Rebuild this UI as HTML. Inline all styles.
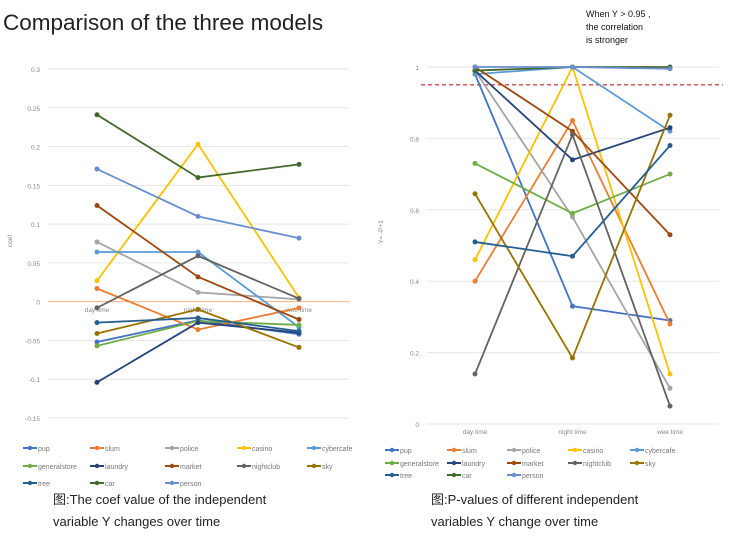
<!DOCTYPE html>
<html><head><meta charset="utf-8"><style>
body{margin:0;background:#fff;width:729px;height:540px;overflow:hidden;font-family:"Liberation Sans","Noto Sans CJK SC",sans-serif}
svg text{font-family:"Liberation Sans","Noto Sans CJK SC",sans-serif}
</style></head><body>
<svg id="s" width="729" height="540" xmlns="http://www.w3.org/2000/svg">
<text x="3" y="30" font-size="22.5" fill="#222">Comparison of the three models</text>
<text x="586" y="17" font-size="9" fill="#111">When Y &gt; 0.95 ,</text>
<text x="586" y="30" font-size="9" fill="#111">the correlation</text>
<text x="586" y="43" font-size="9" fill="#111">is stronger</text>
<text x="53" y="504" font-size="13" fill="#222">图:The coef value of the independent</text>
<text x="53" y="526" font-size="13" fill="#222">variable Y changes over time</text>
<text x="431" y="504" font-size="13" fill="#222">图:P-values of different independent</text>
<text x="431" y="526" font-size="13" fill="#222">variables Y change over time</text>
</svg>
<script>
const categories=["day time","night time","wee time"];
const seriesNames=["pup","slum","police","casino","cybercafe","generalstore","laundry","market","nightclub","sky","tree","car","person"];
const seriesColors=["#4472C4","#ED7D31","#A5A5A5","#FFC000","#5B9BD5","#70AD47","#264478","#9E480E","#636363","#997300","#255E91","#43682B","#698ED0"];
const coefValues=[
[-0.052,-0.024,-0.042],[0.017,-0.036,-0.008],[0.077,0.012,0.003],[0.027,0.203,0.005],
[0.064,0.064,-0.033],[-0.057,-0.025,-0.030],[-0.104,-0.027,-0.040],[0.124,0.032,-0.023],
[-0.008,0.059,0.004],[-0.041,-0.010,-0.059],[-0.027,-0.021,-0.038],[0.241,0.160,0.177],[0.171,0.110,0.082]];
const pValues=[
[0.98,0.33,0.29],[0.40,0.85,0.28],[0.99,0.58,0.10],[0.46,1.0,0.14],
[0.98,1.0,0.82],[0.73,0.59,0.70],[0.99,0.74,0.83],[1.0,0.82,0.53],
[0.14,0.81,0.05],[0.645,0.185,0.865],[0.51,0.47,0.78],[0.99,1.0,1.0],[1.0,1.0,0.995]];
const coefTicks=[0.3,0.25,0.2,0.15,0.1,0.05,0,-0.05,-0.1,-0.15];
const pTicks=[1,0.8,0.6,0.4,0.2,0];
const threshold=0.95;

const svg=document.getElementById('s');
const NS='http://www.w3.org/2000/svg';
function mk(tag,attrs,parent){const e=document.createElementNS(NS,tag);for(const k in attrs)e.setAttribute(k,attrs[k]);(parent||svg).appendChild(e);return e;}

function drawChart(cfg){
  const g=mk('g',{});
  
  
  const y=v=>cfg.y0+(v-cfg.vmin)/(cfg.vmax-cfg.vmin)*(cfg.y1-cfg.y0);
  const x=i=>cfg.xs0+i*cfg.dx;
  cfg.ticks.forEach(t=>{
    const ln=mk('line',{x1:cfg.gx0,x2:cfg.gx1,y1:y(t),y2:y(t),stroke:(t===0&&cfg.zeroOrange)?'#F4B183':'#e6e6e6','stroke-width':1},g);
    
    
    const tx=mk('text',{x:cfg.gx0-8,y:y(t)+3,'font-size':6.5,fill:'#888','text-anchor':'end'},g);
    tx.textContent=String(t);
    
    
  });
  categories.forEach((c,i)=>{
    const tx=mk('text',{x:x(i),y:cfg.labelY,'font-size':6.5,fill:'#888','text-anchor':'middle'},g);
    tx.textContent=c;
    
    
  });
  const yt=mk('text',{x:0,y:0,'font-size':6.5,fill:'#888','text-anchor':'middle',transform:`translate(${cfg.titleX},${cfg.titleY}) rotate(-90)`},g);
  yt.textContent=cfg.yTitle;
  
  
  if(cfg.threshold!==undefined){
    const d=mk('line',{x1:cfg.gx0-6,x2:cfg.gx1+4,y1:y(cfg.threshold),y2:y(cfg.threshold),stroke:'#C00000','stroke-width':1,'stroke-dasharray':'4,3'},g);
    
    
  }
  cfg.data.forEach((vals,si)=>{
    const pts=vals.map((v,i)=>x(i)+','+y(v)).join(' ');
    const pl=mk('polyline',{points:pts,fill:'none',stroke:seriesColors[si],'stroke-width':1.8},g);
    
    
    vals.forEach((v,i)=>{
      const c=mk('circle',{cx:x(i),cy:y(v),r:2.5,fill:seriesColors[si]},g);
      
      
    });
  });
  seriesNames.forEach((n,si)=>{
    const lx=cfg.legX[si%5], ly=cfg.legY[Math.floor(si/5)];
    const le=mk('g',{},g);
    
    
    mk('line',{x1:lx,x2:lx+14,y1:ly,y2:ly,stroke:seriesColors[si],'stroke-width':2},le);
    mk('circle',{cx:lx+7,cy:ly,r:2.2,fill:seriesColors[si]},le);
    const t=mk('text',{x:lx+15,y:ly+3,'font-size':7,fill:'#777'},le);
    t.textContent=n;
  });
}
drawChart({name:'coef-chart',data:coefValues,ticks:coefTicks,vmin:0.3,vmax:-0.15,y0:69,y1:418,
  gx0:48,gx1:349,xs0:97,dx:101,labelY:312,zeroOrange:true,yTitle:'coef',titleX:12,titleY:241,
  legX:[23,90,165,237,307],legY:[448,466,483]});
drawChart({name:'pvalue-chart',data:pValues,ticks:pTicks,vmin:1,vmax:0,y0:67,y1:424,
  gx0:427,gx1:719,xs0:475,dx:97.5,labelY:434,yTitle:'Y= -P+1',titleX:383,titleY:232,threshold:threshold,
  legX:[385,447,507,568,630],legY:[450,463,475]});
</script>
</body></html>
